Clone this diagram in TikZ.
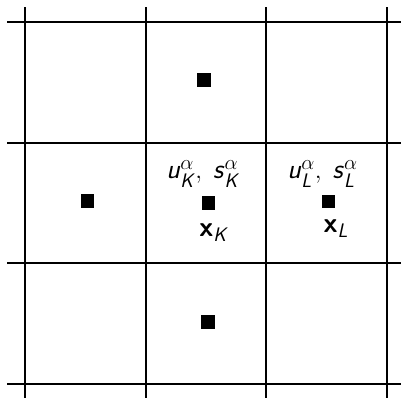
\documentclass[tikz,border=0pt]{standalone}
\usepackage{amsmath}
\usepackage{tikz}
\usetikzlibrary{positioning}
\newcommand{\sfi}[1]{\textsf{\textit{#1}}}
\newcommand{\sfb}[1]{\textsf{\textbf{#1}}}
\tikzset{
    mesh/.style={font=\fontsize{28}{32}\selectfont},
    mesh line/.style={line width=1.8pt},
    cell centre/.style={fill=black, minimum size=0.47cm, inner sep=0pt},
    cell label/.style={anchor=base, inner sep=0pt},
}

\begin{document}
\begin{tikzpicture}[mesh]
    \useasboundingbox (-0.88,-0.49) rectangle (13.22,13.50);
    % mesh lines
    \foreach \p in {0,4.24,8.48,12.72} {
        \draw[mesh line] (\p,-0.63) -- (\p,13.25);
        \draw[mesh line] (-0.63,\p) -- (13.35,\p);
    }
    % cell centres
    \node[cell centre] (xN) at (6.29,10.69) {};
    \node[cell centre] (xW) at (2.20,6.43) {};
    \node[cell centre] (xK) at (6.45,6.36) {};
    \node[cell centre] (xL) at (10.67,6.41) {};
    \node[cell centre] (xS) at (6.43,2.18) {};
    % unknowns and centre labels
    \node[cell label] (uK) at (6.26,7.21)
        {$\sfi{u}^{\alpha}_{\sfi{K}},\;\sfi{s}^{\alpha}_{\sfi{K}}$};
    \node[cell label] (uL) at (10.46,7.21)
        {$\sfi{u}^{\alpha}_{\sfi{L}},\;\sfi{s}^{\alpha}_{\sfi{L}}$};
    \node[cell label] (pK) at (6.64,5.20) {$\sfb{x}_{\sfi{K}}$};
    \node[cell label] (pL) at (10.93,5.31) {$\sfb{x}_{\sfi{L}}$};
\end{tikzpicture}
\end{document}
